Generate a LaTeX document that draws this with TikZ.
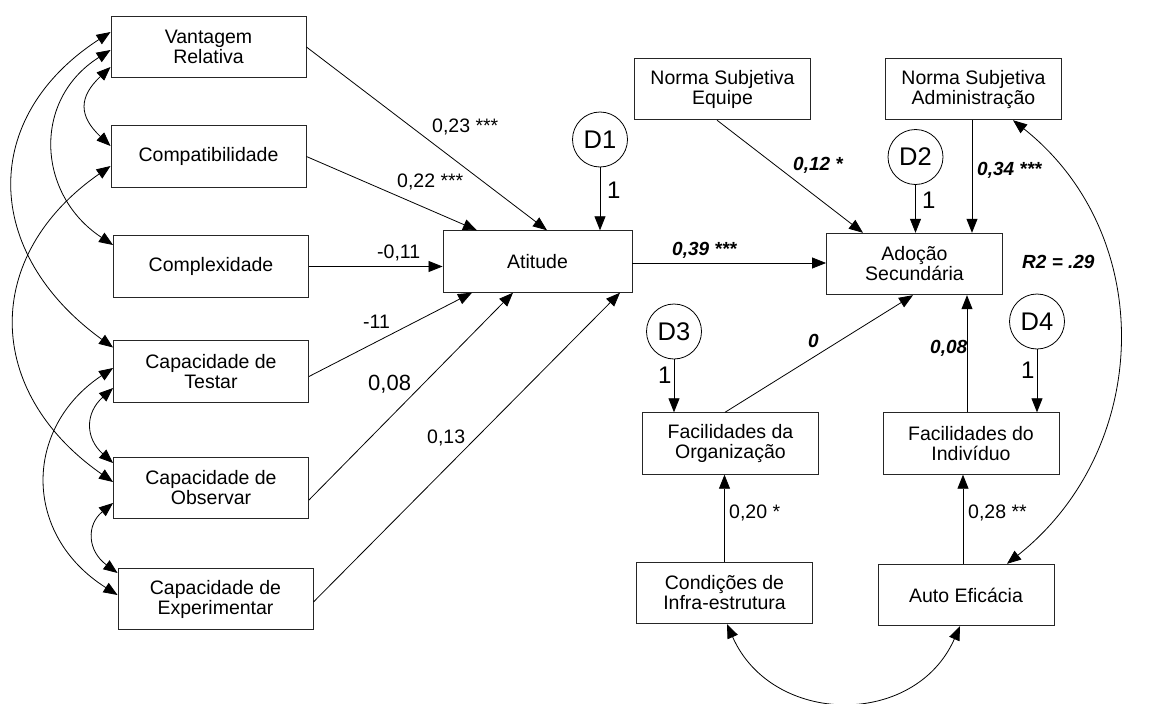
\documentclass[tikz,border=0pt]{standalone}
\usepackage{fontspec}
\setmainfont{Liberation Sans}
\usetikzlibrary{arrows.meta,calc}

\begin{document}
\begin{tikzpicture}[x=1pt,y=-1pt,
  >={Triangle[length=14pt,width=11pt]},
  box/.style={draw=black!85, line width=0.9pt, align=center, inner sep=0pt,
    minimum height=61.5pt, font=\fontsize{19.5}{20}\selectfont},
  lbox/.style={box, minimum width=195pt},
  rbox/.style={box, minimum width=176pt},
  errc/.style={draw, circle, line width=0.8pt, minimum size=55pt, inner sep=0pt,
    font=\fontsize{25.5}{26}\selectfont},
  regr/.style={->, line width=0.8pt},
  cov/.style={<->, line width=0.8pt},
  coef/.style={inner sep=0pt, anchor=base west, font=\fontsize{19.5}{20}\selectfont},
  bcoef/.style={coef, font=\fontsize{19}{20}\selectfont\bfseries\itshape},
  unit/.style={coef, font=\fontsize{24}{24}\selectfont}
]
\useasboundingbox (0,0) rectangle (1173,704);

% exogenous innovation attributes
\node[lbox] (vr)   at (208.5,47)    {Vantagem\\Relativa};
\node[lbox] (comp) at (208.5,156.5) {Compatibilidade};
\node[lbox] (cplx) at (211,266.5)   {Complexidade};
\node[lbox] (test) at (211,371.5)   {Capacidade de\\Testar};
\node[lbox] (obs)  at (211,488)     {Capacidade de\\Observar};
\node[lbox] (exp)  at (215.5,599)   {Capacidade de\\Experimentar};

% endogenous and other observed variables
\node[box, minimum width=189pt] (at) at (537.5,261.5) {Atitude};
\node[rbox] (nse) at (722.5,89)    {Norma Subjetiva\\Equipe};
\node[rbox] (nsa) at (973.5,89)    {Norma Subjetiva\\Administração};
\node[rbox] (ado) at (914.5,264)   {Adoção\\Secundária};
\node[rbox] (fo)  at (730.5,443.5) {Facilidades da\\Organização};
\node[rbox] (fi)  at (971,443.5)   {Facilidades do\\Indivíduo};
\node[rbox] (ci)  at (724.5,593)   {Condições de\\Infra-estrutura};
\node[rbox] (ae)  at (966,595)     {Auto Eficácia};

% disturbances
\node[errc] (d1) at (600,139.5) {D1};
\node[errc] (d2) at (915.5,157) {D2};
\node[errc] (d3) at (674,331.5) {D3};
\node[errc] (d4) at (1037,321.5) {D4};

% regression paths into Atitude
\draw[regr] (vr.east) -- ($(at.north)+(9.5,0)$);
\draw[regr] (comp.east) -- ($(at.north)+(-60.5,0)$);
\draw[regr] (cplx.east) -- (cplx.east -| at.west);
\draw[regr] ($(test.east)+(0,5)$) -- ($(at.south)+(-65.5,0)$);
\draw[regr] ($(obs.east)+(0,12)$) -- ($(at.south)+(-24.5,0)$);
\draw[regr] ($(exp.east)+(0,3)$) -- ($(at.south)+(82.5,0)$);
\draw[regr] (d1.south) -- (d1.south |- at.north);

% regression paths into Adoção Secundária
\draw[regr] ($(at.east)+(0,1.5)$) -- ($(at.east -| ado.west)+(0,1.5)$);
\draw[regr] ($(nse.south)+(-5.5,0)$) -- ($(ado.north)+(-51.5,0)$);
\draw[regr] (d2.south) -- (d2.south |- ado.north);
\draw[regr] ($(nsa.south)+(-1.5,0)$) -- ($(ado.north)+(57.5,0)$);
\draw[regr] ($(fo.north)+(-5.5,0)$) -- ($(ado.south)+(-1.5,0)$);
\draw[regr] ($(fi.north)+(-4,0)$) -- ($(ado.south)+(52.5,0)$);

% facilitating conditions
\draw[regr] (d3.south) -- (d3.south |- fo.north);
\draw[regr] (d4.south) -- (d4.south |- fi.north);
\draw[regr] (ci.north) -- (ci.north |- fo.south);
\draw[regr] ($(ae.north)+(-3,0)$) -- ($(fi.south)+(-8,0)$);

% covariances among exogenous variables
\draw[cov] ($(vr.west)+(0,20)$) .. controls +(-32,30) and +(-32,-30) .. ($(comp.west)+(0,-10.5)$);
\draw[cov] ($(vr.west)+(0,3)$) .. controls +(-79,50) and +(-76,-50) .. ($(cplx.west)+(0,-21.5)$);
\draw[cov] ($(vr.west)+(0,-15)$) .. controls +(-131,85) and +(-131,-95) .. ($(test.west)+(0,-24)$);
\draw[cov] ($(comp.west)+(0,9.5)$) .. controls +(-129,90) and +(-129,-90) .. ($(obs.west)+(0,-6)$);
\draw[cov] ($(test.west)+(0,16.5)$) .. controls +(-28,25) and +(-28,-25) .. ($(obs.west)+(0,-25)$);
\draw[cov] ($(test.west)+(0,-3.5)$) .. controls +(-90,60) and +(-95,-60) .. ($(exp.west)+(0,-4)$);
\draw[cov] ($(obs.west)+(0,15)$) .. controls +(-27,22) and +(-30,-22) .. ($(exp.west)+(0,-26)$);
\draw[cov] ($(ci.south)+(2.5,0)$) .. controls +(45,102) and +(-45,102) .. ($(ae.south)+(-6,0)$);
\draw[cov] ($(nsa.south)+(39.5,0)$) .. controls +(145,115) and +(145,-115) .. ($(ae.north)+(41,0)$);

% coefficients
\node[coef] (c1) at (432,132) {0,23 ***};
\node[coef] (c2) at (397,187) {0,22 ***};
\node[coef] (c3) at (377,258) {-0,11};
\node[coef] (c4) at (363,328) {-11};
\node[coef, font=\fontsize{22}{22}\selectfont] (c5) at (368,390) {0,08};
\node[coef] (c6) at (427,443) {0,13};
\node[bcoef] (c7) at (672,255) {0,39 ***};
\node[bcoef] (c8) at (793,170) {0,12 *};
\node[bcoef] (c9) at (977,175) {0,34 ***};
\node[bcoef] (r2) at (1022,268) {R2 = .29};
\node[bcoef] (c10) at (808,347) {0};
\node[bcoef] (c11) at (930,353) {0,08};
\node[coef] (c12) at (729,518) {0,20 *};
\node[coef] (c13) at (968,518) {0,28 **};
\node[unit] (u1) at (607,198) {1};
\node[unit] (u2) at (922,208) {1};
\node[unit] (u3) at (658,383) {1};
\node[unit] (u4) at (1021,378) {1};
\end{tikzpicture}
\end{document}
